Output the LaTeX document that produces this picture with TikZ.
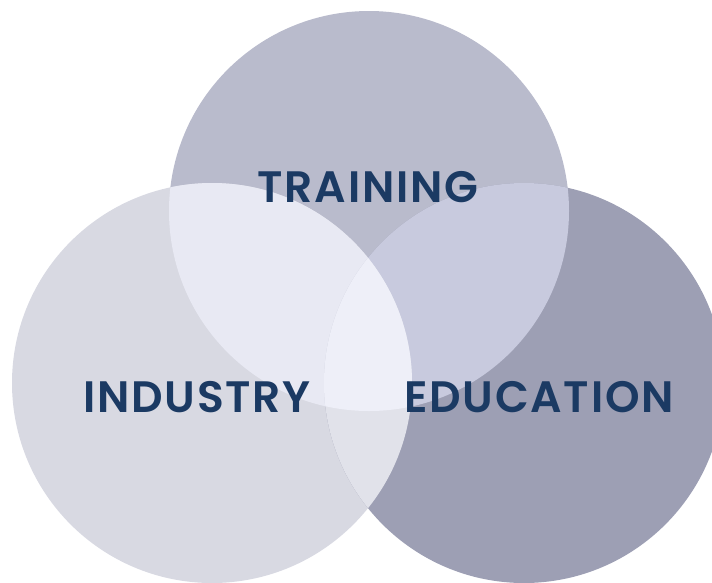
\documentclass[tikz,border=0pt]{standalone}
\usepackage{fontspec}
\setmainfont{Poppins}[BoldFont={* SemiBold}]
\definecolor{cT}{HTML}{B9BBCC}
\definecolor{cL}{HTML}{D8D9E2}
\definecolor{cR}{HTML}{9D9FB4}
\definecolor{cTL}{HTML}{E8E9F3}
\definecolor{cTR}{HTML}{C8CADE}
\definecolor{cLR}{HTML}{E1E2EA}
\definecolor{cTLR}{HTML}{EEEFF8}
\definecolor{txt}{HTML}{1B3A63}
\tikzset{lbl/.style={anchor=base,inner sep=0pt,text=txt,font=\fontsize{44}{48}\selectfont\bfseries\addfontfeatures{LetterSpace=4}}}
\begin{document}
\begin{tikzpicture}[x=1pt,y=-1pt]
\useasboundingbox (0,0) rectangle (712,582);
\coordinate (T) at (369,211);
\coordinate (L) at (212,383);
\coordinate (R) at (524,383);
\fill[cT] (T) circle (200pt);
\fill[cL] (L) circle (200pt);
\fill[cR] (R) circle (200pt);
\begin{scope}\clip (T) circle (200pt); \fill[cTL] (L) circle (200pt);\end{scope}
\begin{scope}\clip (T) circle (200pt); \fill[cTR] (R) circle (200pt);\end{scope}
\begin{scope}\clip (L) circle (200pt); \fill[cLR] (R) circle (200pt);\end{scope}
\begin{scope}\clip (T) circle (200pt); \clip (L) circle (200pt); \fill[cTLR] (R) circle (200pt);\end{scope}
\node[lbl] (tr) at (368,202) {TRAINING};
\node[lbl] (in) at (197,412) {INDUSTRY};
\node[lbl] (ed) at (539,412) {EDUCATION};
\end{tikzpicture}
\end{document}
